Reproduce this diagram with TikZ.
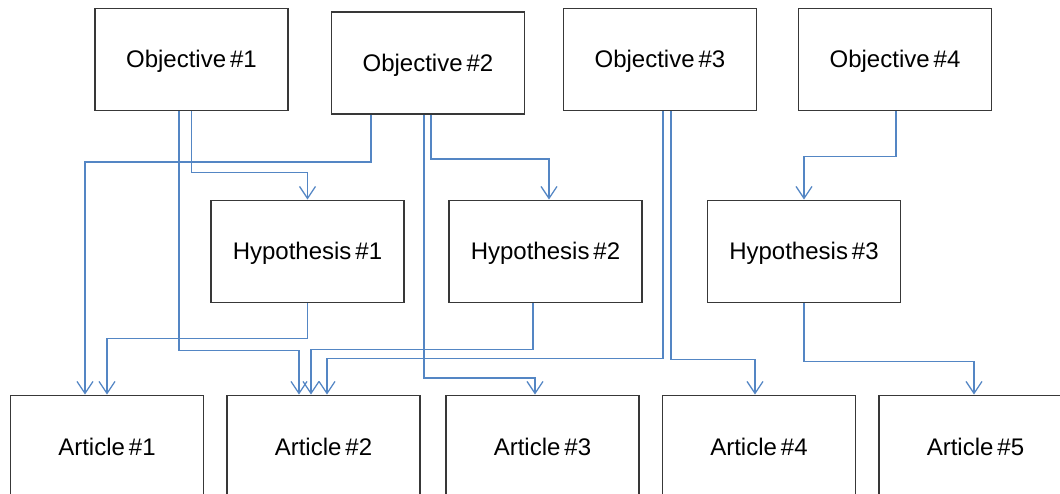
\documentclass[tikz,border=0pt]{standalone}
\usepackage{fontspec}
\setmainfont{Liberation Sans}
\usetikzlibrary{arrows.meta}
\definecolor{linkblue}{RGB}{84,134,196}
\definecolor{boxgray}{RGB}{56,56,56}

\begin{document}
\begin{tikzpicture}
[x=1pt, y=-1pt, box/.style={draw=boxgray, line width=1.8pt, fill=white, minimum width=193pt, minimum height=102pt, inner sep=0pt, text height=17pt, text depth=0pt, font=\fontsize{24}{28}\selectfont}, link/.style={draw=linkblue, line width=1.3pt, -{Straight Barb[length=12pt,width=16pt]}}]
    \useasboundingbox (0,0) rectangle (1060,494);
    \clip (0,0) rectangle (1060,494);
    % objectives
    \node[box] (o1) at (191.5,59.5) {Objective\,\#1};
    \node[box] (o2) at (428,63) {Objective\,\#2};
    \node[box] (o3) at (660,59.5) {Objective\,\#3};
    \node[box] (o4) at (895,59.5) {Objective\,\#4};
    % hypotheses
    \node[box] (h1) at (307.5,251.5) {Hypothesis\,\#1};
    \node[box] (h2) at (545.5,251.5) {Hypothesis\,\#2};
    \node[box] (h3) at (804,251.5) {Hypothesis\,\#3};
    % articles
    \node[box] (a1) at (107,446.5) {Article\,\#1};
    \node[box] (a2) at (323.5,446.5) {Article\,\#2};
    \node[box] (a3) at (542.5,446.5) {Article\,\#3};
    \node[box] (a4) at (759,446.5) {Article\,\#4};
    \node[box] (a5) at (975.5,446.5) {Article\,\#5};
    % links
    \draw[link] (o1.south) -- ++(0,61) -| (h1.north);
    \draw[link] ([xshift=-12.5pt]o1.south) -- ++(0,239) -| ([xshift=-24.5pt]a2.north);
    \draw[link] ([xshift=-57pt]o2.south) -- ++(0,47) -| ([xshift=-22pt]a1.north);
    \draw[link] ([xshift=3pt]o2.south) -- ++(0,44) -| ([xshift=3.5pt]h2.north);
    \draw[link] ([xshift=-4pt]o2.south) -- ++(0,263) -| ([xshift=-7.5pt]a3.north);
    \draw[link] (h1.south) -- ++(0,35) -| (a1.north);
    \draw[link] ([xshift=-12.5pt]h2.south) -- ++(0,46) -| ([xshift=-12.5pt]a2.north);
    \draw[link] ([xshift=3pt]o3.south) -- ++(0,247) -| ([xshift=3.5pt]a2.north);
    \draw[link] ([xshift=11pt]o3.south) -- ++(0,248) -| ([xshift=-4pt]a4.north);
    \draw[link] ([xshift=1pt]o4.south) -- ++(0,45) -| (h3.north);
    \draw[link] (h3.south) -- ++(0,58) -| ([xshift=-1.5pt]a5.north);
\end{tikzpicture}
\end{document}
